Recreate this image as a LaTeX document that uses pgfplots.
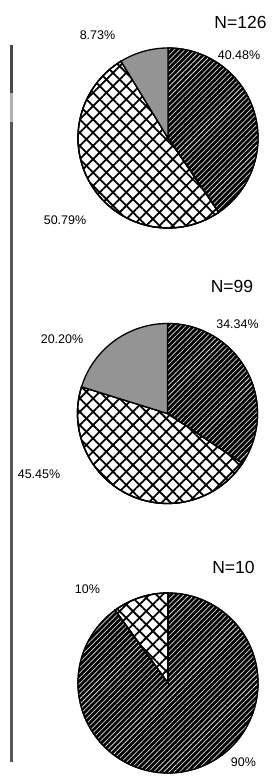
\documentclass[border=0pt]{standalone}
\usepackage{pgfplots}
\pgfplotsset{compat=1.18}
\usepackage{fontspec}
\setmainfont{Liberation Sans}
\usetikzlibrary{patterns.meta}

% sector: #1 cx, #2 cy, #3 cumulative start (%), #4 value (%), #5 style
\newcommand{\slice}[5]{%
  \pgfmathsetmacro\angA{90-3.6*(#3+#4)}%
  \pgfmathsetmacro\angB{90-3.6*#3}%
  \addplot[#5, domain=\angA:\angB, samples=120, variable=\t]
    ({#1+90*cos(\t)},{#2+90*sin(\t)}) -- (axis cs:#1,#2) -- cycle;
}
\tikzset{
  darkhatch/.style={draw=black, line width=1.3pt, fill=black,
    postaction={pattern={Lines[angle=45,distance=3.7pt,line width=0.75pt]}, pattern color=white!85!black}},
  crosshatch/.style={draw=black, line width=1.3pt, fill=white,
    postaction={pattern={Lines[angle=45,distance=9.4pt,line width=1.8pt]}, pattern color=black},
    postaction={pattern={Lines[angle=-45,distance=9.4pt,line width=1.8pt]}, pattern color=black}},
  grayfill/.style={draw=black, line width=1.3pt, fill=black!42},
  lab/.style={font=\fontsize{12.5}{13}\selectfont, inner sep=0pt},
  ntitle/.style={font=\fontsize{17.5}{18}\selectfont, inner sep=0pt},
}

\begin{document}
\begin{tikzpicture}
\begin{axis}[
  scale only axis, width=271pt, height=784pt,
  xmin=0, xmax=271, ymin=0, ymax=784,
  hide axis, clip=false,
]
\path (axis cs:0,0) rectangle (axis cs:271,784);
% left rule
\draw[line width=3pt, black!72] (axis cs:11,739) -- (axis cs:11,691);
\draw[line width=3pt, black!30] (axis cs:11,691) -- (axis cs:11,662);
\draw[line width=3pt, black!66] (axis cs:11,662) -- (axis cs:11,22);

% Pie 1: N=126
\slice{168}{646}{0}{40.48}{darkhatch}
\slice{168}{646}{40.48}{50.79}{crosshatch}
\slice{168}{646}{91.27}{8.73}{grayfill}
\node[ntitle] at (axis cs:240.5,762) {N=126};
\node[lab] at (axis cs:97.5,749) {8.73\%};
\node[lab] at (axis cs:239,729) {40.48\%};
\node[lab] at (axis cs:65,564) {50.79\%};

% Pie 2: N=99
\slice{167.5}{370.5}{0}{34.34}{darkhatch}
\slice{167.5}{370.5}{34.34}{45.45}{crosshatch}
\slice{167.5}{370.5}{79.79}{20.20}{grayfill}
\node[ntitle] at (axis cs:232,498) {N=99};
\node[lab] at (axis cs:237.5,460) {34.34\%};
\node[lab] at (axis cs:62,445) {20.20\%};
\node[lab] at (axis cs:39,310) {45.45\%};

% Pie 3: N=10
\slice{168}{101}{0}{90}{darkhatch}
\slice{168}{101}{90}{10}{crosshatch}
\node[ntitle] at (axis cs:233.5,217) {N=10};
\node[lab] at (axis cs:87.5,195) {10\%};
\node[lab] at (axis cs:243.5,22) {90\%};
\end{axis}
\end{tikzpicture}
\end{document}
